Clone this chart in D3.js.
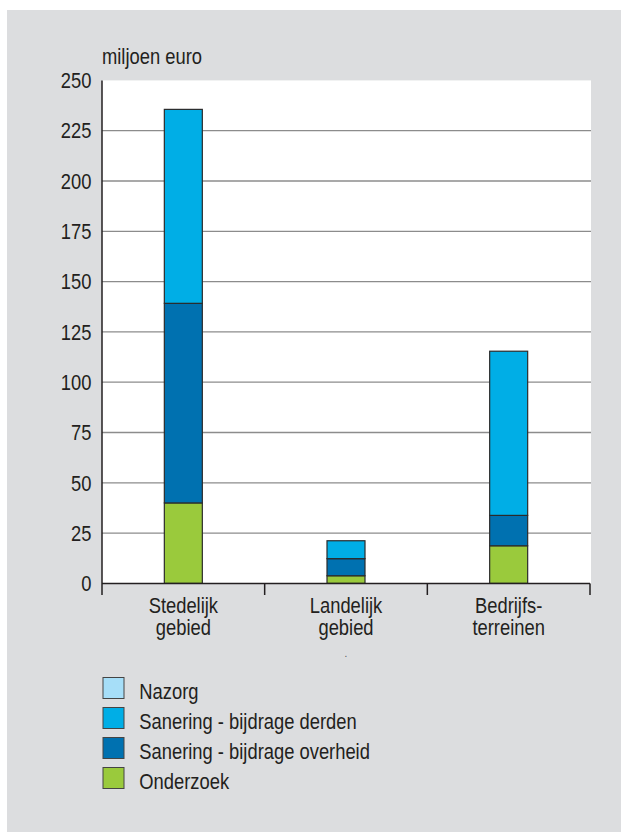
<!DOCTYPE html>
<html><head><meta charset="utf-8">
<script src="https://cdn.jsdelivr.net/npm/d3@7"></script>
<style>
html,body{margin:0;padding:0;background:#fff;}
svg{display:block;font-family:"Liberation Sans",Arial,sans-serif;}
</style></head>
<body>
<script>
const categories = [["Stedelijk","gebied"],["Landelijk","gebied"],["Bedrijfs-","terreinen"]];
const seriesNames = ["Onderzoek","Sanering - bijdrage overheid","Sanering - bijdrage derden","Nazorg"];
const onderzoek = [40, 3.8, 18.7];
const overheid = [99.2, 8.5, 15.1];
const derden = [96.4, 8.9, 81.6];
const nazorg = [0, 0, 0];
const yTicks = [0,25,50,75,100,125,150,175,200,225,250];
const colors = ["#9aca3c","#0071b0","#00aee6","#a6def8"];
const legendOrder = [3,2,1,0];

(function(){
const W=621,H=832, FS="22px", SX=0.835, TXT="#231f20";
const svg=d3.select("body").append("svg").attr("width",W).attr("height",H);
svg.append("rect").attr("x",7).attr("y",10).attr("width",W-7).attr("height",H-10).attr("fill","#dcdddf");

const pLeft=102,pRight=591,pTop=80.4,pBottom=583.4;
const catKeys=categories.map(c=>c.join(" "));
const x=d3.scaleBand().domain(catKeys).range([pLeft,590]).padding(0);
const y=d3.scaleLinear().domain([0,250]).range([pBottom,pTop]);

svg.append("rect").attr("x",pLeft).attr("y",y(250)).attr("width",pRight-pLeft).attr("height",pBottom-y(250)).attr("fill","#fff");

svg.append("g").selectAll("line").data(yTicks.filter(t=>t>0&&t<250)).join("line")
  .attr("x1",pLeft).attr("x2",pRight).attr("y1",d=>y(d)).attr("y2",d=>y(d))
  .attr("stroke","#8c8c8c").attr("stroke-width",1.3);

const ya=svg.append("g").attr("transform",`translate(${pLeft},0)`)
  .call(d3.axisLeft(y).tickValues(yTicks).tickSize(0).tickPadding(10));
ya.select(".domain").remove();
ya.selectAll("text").attr("font-size",FS).attr("fill",TXT).attr("font-family","Liberation Sans, Arial, sans-serif")
  .attr("x",-10.5/SX).attr("dy","0.33em").attr("transform",`scale(${SX},1)`);

const rows=catKeys.map((k,i)=>({key:k,Onderzoek:onderzoek[i],"Sanering - bijdrage overheid":overheid[i],"Sanering - bijdrage derden":derden[i],Nazorg:nazorg[i]}));
const stack=d3.stack().keys(seriesNames)(rows);
const bw=38;
svg.append("g").selectAll("g").data(stack).join("g").attr("fill",(d,i)=>colors[i])
  .selectAll("rect").data(d=>d.filter(p=>p[1]-p[0]>0)).join("rect")
  .attr("x",d=>x(d.data.key)+x.bandwidth()/2-bw/2).attr("width",bw)
  .attr("y",d=>y(d[1])).attr("height",d=>y(d[0])-y(d[1]))
  .attr("stroke","#2b2b2b").attr("stroke-width",1.2);

svg.append("line").attr("x1",pLeft).attr("x2",pLeft).attr("y1",y(250)).attr("y2",595).attr("stroke",TXT).attr("stroke-width",1.5);
svg.append("line").attr("x1",pLeft).attr("x2",590).attr("y1",pBottom).attr("y2",pBottom).attr("stroke",TXT).attr("stroke-width",1.5);
const bounds=catKeys.map(k=>x(k)).concat([x(catKeys[catKeys.length-1])+x.bandwidth()]);
svg.append("g").selectAll("line").data(bounds.slice(1)).join("line")
  .attr("x1",d=>d).attr("x2",d=>d).attr("y1",pBottom).attr("y2",595).attr("stroke",TXT).attr("stroke-width",1.5);

const cl=svg.append("g").selectAll("text").data(categories).join("text")
  .attr("text-anchor","middle").attr("font-size",FS).attr("fill",TXT)
  .attr("transform",(d,i)=>`translate(${x(catKeys[i])+x.bandwidth()/2},613.3) scale(${SX},1)`);
cl.selectAll("tspan").data(d=>d).join("tspan").attr("x",0).attr("dy",(d,i)=>i?22:0).text(d=>d);

svg.append("text").attr("x",x(catKeys[1])+x.bandwidth()/2).attr("y",657).attr("text-anchor","middle").attr("font-size","10px").attr("fill","#555").text(".");

svg.append("text").attr("transform",`translate(102,63.5) scale(${SX},1)`).attr("font-size",FS).attr("fill",TXT).text("miljoen euro");

const lg=svg.append("g").selectAll("g").data(legendOrder).join("g")
  .attr("transform",(d,i)=>`translate(103,${677.5+i*30})`);
lg.append("rect").attr("width",21).attr("height",21).attr("fill",d=>colors[d]).attr("stroke","#444").attr("stroke-width",1);
lg.append("text").attr("transform",`translate(36.3,21.5) scale(${SX},1)`).attr("font-size",FS).attr("fill",TXT).text(d=>seriesNames[d]);
})();
</script>
</body></html>
